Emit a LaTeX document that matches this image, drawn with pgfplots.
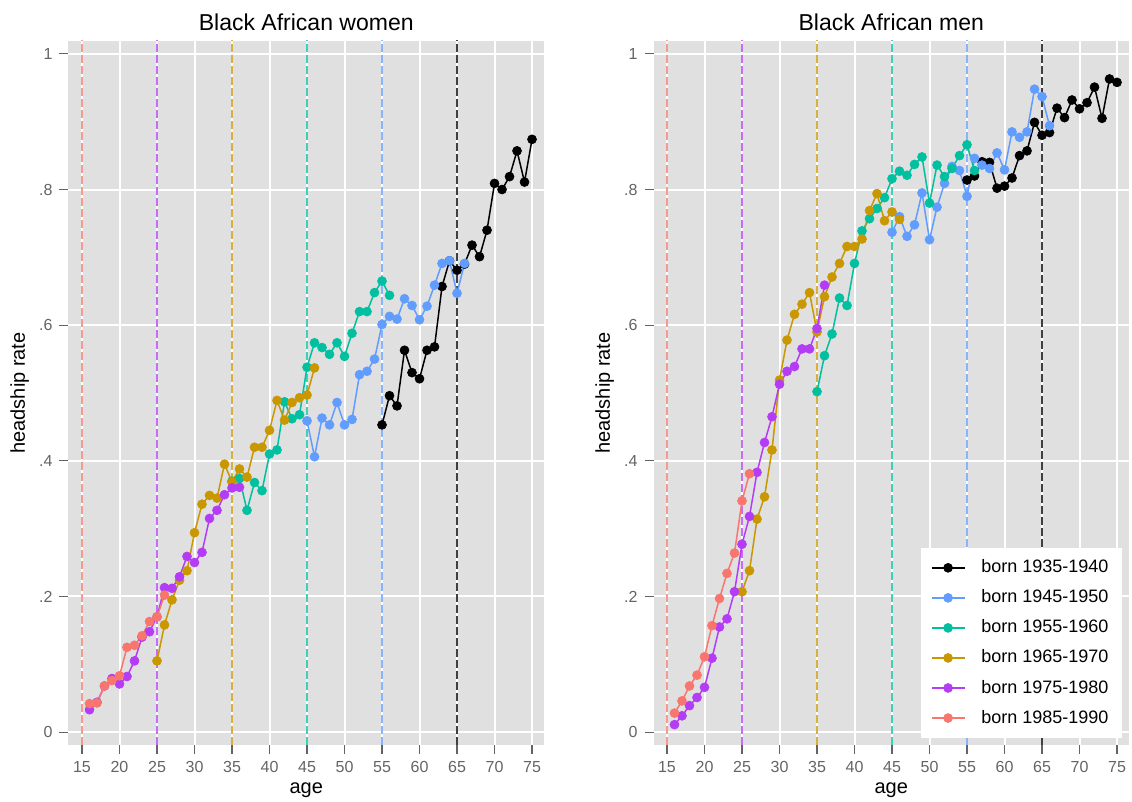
\documentclass[border=0pt]{standalone}
\usepackage{fontspec}
\setmainfont{Liberation Sans}
\usepackage{pgfplots}
\pgfplotsset{compat=1.18}

\definecolor{bggray}{HTML}{E0E0E0}
\definecolor{tickgray}{HTML}{646464}
\definecolor{cblack}{HTML}{000000}
\definecolor{cblue}{HTML}{619CFF}
\definecolor{cteal}{HTML}{00C0A0}
\definecolor{cgold}{HTML}{C99700}
\definecolor{cpurple}{HTML}{B43CF5}
\definecolor{csalmon}{HTML}{F8766D}

\pgfplotsset{
  panel/.style={
    scale only axis, width=237.75pt, height=352pt,
    xmin=13.2, xmax=76.6, ymin=-0.019, ymax=1.019,
    xtick={15,20,...,75}, ytick={0,0.2,0.4,0.6,0.8,1},
    yticklabels={0,.2,.4,.6,.8,1},
    axis background/.style={fill=bggray},
    axis line style={draw=none},
    grid=major, grid style={white, line width=1pt},
    tick align=outside, xtick pos=left, ytick pos=left,
    major tick length=4.5pt, tick style={tickgray, line width=0.6pt},
    /pgf/number format/assume math mode=true,
    ticklabel style={font=\fontsize{8}{9.6}\selectfont, text=tickgray},
    xlabel={age}, ylabel={headship rate},
    label style={font=\fontsize{8.5}{10}\selectfont},
    every axis x label/.style={at={(axis description cs:0.5,0)}, anchor=base, yshift=-24.5pt},
    every axis y label/.style={at={(axis description cs:-0.0915,0.5)}, rotate=90, anchor=base},
    title style={at={(0.5,1)}, anchor=base, yshift=-1pt, font=\fontsize{11.5}{13}\selectfont},
    clip=true,
  },
  ser/.style={color=#1, line width=0.75pt, mark=*, mark size=2.25pt,
    mark options={solid, fill=#1, draw=#1, line width=0.3pt}},
  vline/.style={color=#1, opacity=0.75, line width=1pt, dash pattern=on 4pt off 1.5pt, forget plot},
}

\begin{document}
\begin{tikzpicture}
% left panel: women
\begin{axis}[panel, title={Black African women}]
\addplot[vline=csalmon] coordinates {(15,-0.1) (15,1.1)};
\addplot[vline=cpurple] coordinates {(25,-0.1) (25,1.1)};
\addplot[vline=cgold] coordinates {(35,-0.1) (35,1.1)};
\addplot[vline=cteal] coordinates {(45,-0.1) (45,1.1)};
\addplot[vline=cblue] coordinates {(55,-0.1) (55,1.1)};
\addplot[vline=cblack] coordinates {(65,-0.1) (65,1.1)};

\addplot[ser=cblack] coordinates {(55,0.453) (56,0.496) (57,0.481) (58,0.563) (59,0.530) (60,0.521) (61,0.563) (62,0.568) (63,0.657) (64,0.695) (65,0.681) (66,0.690) (67,0.718) (68,0.701) (69,0.740) (70,0.809) (71,0.800) (72,0.819) (73,0.857) (74,0.811) (75,0.874)};
\addplot[ser=cblue] coordinates {(45,0.459) (46,0.406) (47,0.463) (48,0.453) (49,0.486) (50,0.453) (51,0.461) (52,0.527) (53,0.532) (54,0.550) (55,0.601) (56,0.613) (57,0.609) (58,0.639) (59,0.629) (60,0.608) (61,0.628) (62,0.659) (63,0.691) (64,0.695) (65,0.647) (66,0.691)};
\addplot[ser=cteal] coordinates {(35,0.370) (36,0.374) (37,0.327) (38,0.368) (39,0.356) (40,0.410) (41,0.416) (42,0.487) (43,0.462) (44,0.468) (45,0.538) (46,0.574) (47,0.567) (48,0.557) (49,0.574) (50,0.554) (51,0.588) (52,0.620) (53,0.620) (54,0.648) (55,0.665) (56,0.644)};
\addplot[ser=cgold] coordinates {(25,0.105) (26,0.158) (27,0.195) (28,0.224) (29,0.238) (30,0.294) (31,0.336) (32,0.349) (33,0.345) (34,0.395) (35,0.369) (36,0.388) (37,0.376) (38,0.420) (39,0.420) (40,0.445) (41,0.489) (42,0.460) (43,0.486) (44,0.493) (45,0.497) (46,0.537)};
\addplot[ser=cpurple] coordinates {(16,0.033) (17,0.044) (18,0.068) (19,0.079) (20,0.071) (21,0.082) (22,0.105) (23,0.140) (24,0.148) (25,0.170) (26,0.213) (27,0.212) (28,0.229) (29,0.259) (30,0.250) (31,0.265) (32,0.315) (33,0.327) (34,0.350) (35,0.360) (36,0.361)};
\addplot[ser=csalmon] coordinates {(16,0.042) (17,0.043) (18,0.068) (19,0.076) (20,0.083) (21,0.125) (22,0.128) (23,0.142) (24,0.163) (25,0.170) (26,0.202)};
\end{axis}

% right panel: men
\begin{axis}[panel, at={(292.5pt,0)}, title={Black African men},
  legend style={at={(0.987,0.01)}, anchor=south east, draw=none, fill=white,
    font=\fontsize{9}{11}\selectfont, row sep=3pt, inner xsep=5pt, inner ysep=3.75pt},
  legend cell align=left,
  legend image code/.code={\draw[mark repeat=2, mark phase=2] plot coordinates {(0pt,0pt) (8.25pt,0pt) (16.5pt,0pt)};
    \path (22.5pt,0pt);}]
\addplot[vline=csalmon] coordinates {(15,-0.1) (15,1.1)};
\addplot[vline=cpurple] coordinates {(25,-0.1) (25,1.1)};
\addplot[vline=cgold] coordinates {(35,-0.1) (35,1.1)};
\addplot[vline=cteal] coordinates {(45,-0.1) (45,1.1)};
\addplot[vline=cblue] coordinates {(55,-0.1) (55,1.1)};
\addplot[vline=cblack] coordinates {(65,-0.1) (65,1.1)};

\addplot[ser=cblack] coordinates {(55,0.814) (56,0.820) (57,0.841) (58,0.840) (59,0.802) (60,0.805) (61,0.817) (62,0.850) (63,0.857) (64,0.899) (65,0.880) (66,0.884) (67,0.920) (68,0.906) (69,0.932) (70,0.919) (71,0.928) (72,0.951) (73,0.905) (74,0.963) (75,0.958)};
\addlegendentry{born 1935-1940}
\addplot[ser=cblue] coordinates {(45,0.737) (46,0.760) (47,0.731) (48,0.748) (49,0.795) (50,0.726) (51,0.774) (52,0.809) (53,0.834) (54,0.828) (55,0.790) (56,0.846) (57,0.836) (58,0.831) (59,0.854) (60,0.829) (61,0.885) (62,0.877) (63,0.885) (64,0.948) (65,0.937) (66,0.894)};
\addlegendentry{born 1945-1950}
\addplot[ser=cteal] coordinates {(35,0.502) (36,0.555) (37,0.587) (38,0.640) (39,0.629) (40,0.691) (41,0.739) (42,0.757) (43,0.772) (44,0.788) (45,0.816) (46,0.827) (47,0.821) (48,0.837) (49,0.848) (50,0.780) (51,0.836) (52,0.819) (53,0.831) (54,0.850) (55,0.866) (56,0.828)};
\addlegendentry{born 1955-1960}
\addplot[ser=cgold] coordinates {(25,0.207) (26,0.238) (27,0.314) (28,0.347) (29,0.416) (30,0.519) (31,0.578) (32,0.616) (33,0.631) (34,0.648) (35,0.590) (36,0.642) (37,0.671) (38,0.691) (39,0.716) (40,0.716) (41,0.727) (42,0.769) (43,0.794) (44,0.754) (45,0.767) (46,0.756)};
\addlegendentry{born 1965-1970}
\addplot[ser=cpurple] coordinates {(16,0.011) (17,0.024) (18,0.039) (19,0.051) (20,0.066) (21,0.109) (22,0.155) (23,0.167) (24,0.207) (25,0.277) (26,0.318) (27,0.383) (28,0.427) (29,0.465) (30,0.513) (31,0.532) (32,0.539) (33,0.565) (34,0.565) (35,0.595) (36,0.659)};
\addlegendentry{born 1975-1980}
\addplot[ser=csalmon] coordinates {(16,0.028) (17,0.046) (18,0.068) (19,0.084) (20,0.111) (21,0.157) (22,0.197) (23,0.234) (24,0.264) (25,0.341) (26,0.381)};
\addlegendentry{born 1985-1990}
\end{axis}

\pgfresetboundingbox
\path[use as bounding box] (-34.25pt,-28.5pt) rectangle (531.75pt,372.5pt);
\end{tikzpicture}
\end{document}
